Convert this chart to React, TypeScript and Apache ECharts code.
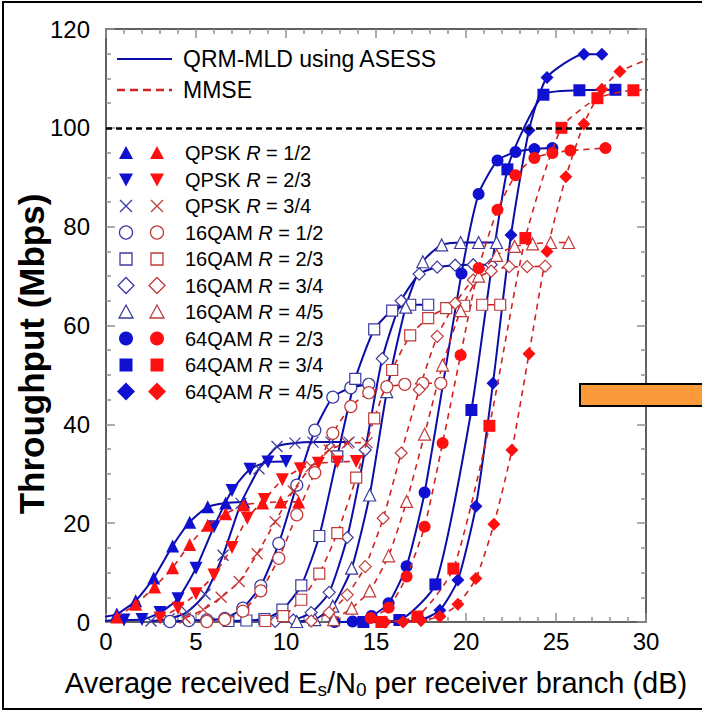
import React, { useEffect, useRef } from 'react';
import * as echarts from 'echarts';

const FONT = 'Liberation Sans, Arial, sans-serif';

// ---- tick labels ----
const xTicks = [0, 5, 10, 15, 20, 25, 30];
const yTicks = [0, 20, 40, 60, 80, 100, 120];
const yTitle = 'Throughput (Mbps)';
const xTitle = 'Average received E{sub|s}/N{sub|0} per receiver branch (dB)';

// ---- legend ----
const legendNames = [
  'QPSK {i|R} = 1/2', 'QPSK {i|R} = 2/3', 'QPSK {i|R} = 3/4',
  '16QAM {i|R} = 1/2', '16QAM {i|R} = 2/3', '16QAM {i|R} = 3/4', '16QAM {i|R} = 4/5',
  '64QAM {i|R} = 2/3', '64QAM {i|R} = 3/4', '64QAM {i|R} = 4/5',
];
const markerKinds = ['triUp', 'triDown', 'cross', 'oCircle', 'oSquare', 'oDiamond', 'oTri', 'fCircle', 'fSquare', 'fDiamond'];
const methodNames = ['QRM-MLD using ASESS', 'MMSE'];
const targetThroughput = 100;

// ---- QRM-MLD using ASESS (blue, solid) ----
const qrmQpsk12 = [[-0.4, 0.9], [0.6, 1.6], [1.65, 4.3], [2.65, 8.9], [3.7, 15.4], [4.65, 20.2], [5.65, 23.3], [6.65, 24.1], [7.65, 24.3]];
const qrmQpsk23 = [[-0.4, 0.2], [1, 0.4], [2, 0.5], [3, 1.9], [4, 4.7], [5, 10.9], [6, 19.3], [7, 26.6], [8, 30.9], [9, 32.4], [10, 32.5]];
const qrmQpsk34 = [[2.5, 0.2], [3.5, 0.6], [4.5, 2], [5.5, 5.6], [6.5, 13.5], [7.5, 24], [8.5, 31], [9.5, 35.5], [10.5, 36.2], [11.5, 36.4], [12.5, 36.4], [13.5, 36.4]];
const qrm16q12 = [[3.55, 0.1], [4.6, 0.3], [5.6, 0.4], [6.6, 0.7], [7.6, 2.8], [8.6, 7.3], [9.6, 15.9], [10.6, 27.7], [11.6, 38.8], [12.6, 45.5], [13.6, 47.4], [14.6, 48.1]];
const qrm16q23 = [[6.8, 0.2], [7.8, 0.3], [8.8, 0.6], [9.8, 2.5], [10.85, 7.4], [11.85, 17.4], [12.85, 33.5], [13.85, 49.2], [14.9, 59.2], [15.9, 63], [16.9, 64.2], [17.9, 64.2]];
const qrm16q34 = [[9.4, 0.1], [10.4, 0.4], [11.4, 1.9], [12.4, 6], [13.4, 17.1], [14.4, 34.8], [15.35, 53.3], [16.4, 65], [17.4, 70.4], [18.4, 71.8], [19.4, 72.2], [20.4, 72.3], [21.4, 72.3]];
const qrm16q45 = [[10.6, 0.1], [11.6, 0.5], [12.6, 3.2], [13.65, 10.9], [14.65, 25.7], [15.6, 46.6], [16.65, 63.7], [17.6, 72.9], [18.65, 76.3], [19.7, 76.8], [20.7, 76.8], [21.7, 76.8]];
const qrm64q23 = [[12.7, 0], [13.7, 0.1], [14.75, 1.2], [15.7, 3.8], [16.7, 11.3], [17.7, 26.2], [19.75, 70.5], [20.7, 86.6], [21.75, 93.4], [22.75, 95.1], [23.8, 95.7], [24.8, 95.9]];
const qrm64q34 = [[14.3, 0], [16.3, 0.4], [18.3, 7.6], [20.3, 42.9], [22.3, 91.6], [24.3, 106.7], [26.3, 107.6], [28.3, 107.7]];
const qrm64q45 = [[15.5, 0], [16.5, 0.1], [17.5, 0.4], [18.55, 2.4], [19.55, 8.5], [20.55, 23.4], [21.5, 48.3], [22.5, 78.3], [23.5, 99.5], [24.5, 110.2], [26.55, 114.9], [27.55, 114.9]];

// ---- MMSE (red, dashed) ----
const mmseQpsk12 = [[0.6, 1.0], [1.65, 3.6], [2.7, 7.1], [3.7, 11], [4.65, 15.7], [5.65, 19.6], [6.65, 21.9], [7.65, 23.7], [8.7, 24.1], [9.7, 24.3], [10.7, 24.3]];
const mmseQpsk23 = [[3, 0.8], [4, 2.8], [5, 5.7], [6, 9.5], [7, 15.1], [7.85, 21], [8.8, 24.8], [9.8, 28.8], [10.8, 31], [11.8, 32.1], [12.85, 32.4], [13.9, 32.5]];
const mmseQpsk34 = [[4.4, 0.8], [5.4, 2.5], [6.4, 5], [7.4, 8.2], [8.4, 13.8], [9.4, 20.3], [10.4, 26.5], [11.4, 31.5], [12.4, 34.8], [13.4, 36.2], [14.5, 36.3]];
const mmse16q12 = [[5.6, 0.1], [6.6, 0.5], [7.6, 2.2], [8.6, 6.3], [9.6, 12.9], [10.6, 21.7], [11.6, 30.2], [12.6, 38.2], [13.6, 43.6], [14.6, 46.4], [15.6, 47.6], [16.6, 48.1], [17.6, 48.3], [18.6, 48.3]];
const mmse16q23 = [[8.85, 0.2], [9.85, 1.2], [10.85, 4.5], [11.85, 9.8], [12.85, 18], [13.9, 29.2], [14.9, 41.2], [15.9, 51], [16.9, 58], [17.9, 61.5], [18.9, 63.5], [19.9, 64], [20.9, 64.2], [21.9, 64.2]];
const mmse16q34 = [[11.4, 0.2], [12.4, 1.9], [13.4, 5.5], [14.4, 11.2], [15.4, 21], [16.4, 34.2], [17.4, 47], [18.4, 57.8], [19.4, 64.5], [20.4, 69.2], [21.4, 71], [22.4, 71.9], [23.4, 71.9], [24.4, 72]];
const mmse16q45 = [[12.65, 0.5], [13.65, 2.8], [14.65, 6.3], [15.7, 13.4], [16.7, 24.4], [17.7, 38], [18.7, 52], [19.7, 63], [20.7, 70], [21.7, 74.2], [22.7, 76], [23.7, 76.5], [24.7, 76.8], [25.7, 76.8]];
const mmse64q23 = [[14.7, 0.8], [15.7, 2.9], [16.7, 9.2], [17.7, 19.3], [18.7, 36.2], [19.7, 54], [20.7, 71.6], [21.75, 83.4], [22.75, 90.4], [23.8, 93.9], [24.8, 94.9], [25.8, 95.4], [27.75, 95.9]];
const mmse64q34 = [[15.3, 0], [17.3, 1.1], [19.3, 10.8], [21.3, 39.7], [23.3, 77.7], [25.3, 100], [27.3, 106], [29.3, 107.6], [31.3, 107.7]];
const mmse64q45 = [[15.5, 0], [16.5, 0], [17.5, 0.3], [18.55, 1.1], [19.55, 3.6], [20.55, 8.8], [21.55, 19.8], [22.55, 34.8], [23.5, 54.3], [24.5, 75], [25.55, 90.1], [26.55, 100.8], [27.55, 107.8], [28.55, 111.4], [30.55, 114.5]];

const qrmSets = [qrmQpsk12, qrmQpsk23, qrmQpsk34, qrm16q12, qrm16q23, qrm16q34, qrm16q45, qrm64q23, qrm64q34, qrm64q45];
const mmseSets = [mmseQpsk12, mmseQpsk23, mmseQpsk34, mmse16q12, mmse16q23, mmse16q34, mmse16q45, mmse64q23, mmse64q34, mmse64q45];

const BLUE_LINE = '#0c0ca8';
const BLUE_FILL = '#1010d0';
const BLUE_OPEN = '#3a3aa0';
const RED_LINE = '#d42020';
const RED_FILL = '#ff1010';
const RED_OPEN = '#c03a3a';

const symbolFor = (k: string) => {
  switch (k) {
    case 'triUp': return { symbol: 'triangle', size: 13 };
    case 'triDown': return { symbol: 'path://M0,0L20,0L10,18Z', size: 13 };
    case 'cross': return { symbol: 'path://M0,0L10,10M10,0L0,10', size: 11 };
    case 'oCircle': return { symbol: 'circle', size: 12 };
    case 'oSquare': return { symbol: 'rect', size: 11 };
    case 'oDiamond': return { symbol: 'diamond', size: 12 };
    case 'oTri': return { symbol: 'triangle', size: 12 };
    case 'fCircle': return { symbol: 'circle', size: 12 };
    case 'fSquare': return { symbol: 'rect', size: 12 };
    default: return { symbol: 'diamond', size: 13 };
  }
};

function makeSeries(data: number[][], kind: string, isQrm: boolean, name: string) {
  const s = symbolFor(kind);
  const filled = kind.startsWith('tri') || kind.startsWith('f');
  const lineColor = isQrm ? BLUE_LINE : RED_LINE;
  let itemStyle: any;
  if (kind === 'cross') {
    itemStyle = { color: 'none', borderColor: isQrm ? BLUE_OPEN : RED_OPEN, borderWidth: 1.3 };
  } else if (filled) {
    itemStyle = { color: isQrm ? BLUE_FILL : RED_FILL, borderWidth: 0 };
  } else {
    itemStyle = { color: '#ffffff', borderColor: isQrm ? BLUE_OPEN : RED_OPEN, borderWidth: 1.2 };
  }
  return {
    type: 'line',
    name,
    data,
    symbol: s.symbol,
    symbolSize: s.size,
    smooth: 0.2,
    clip: true,
    showAllSymbol: true,
    lineStyle: { color: lineColor, width: isQrm ? 2 : 1.6, type: isQrm ? 'solid' : [6, 5] },
    itemStyle,
    z: isQrm ? 3 : 4,
  };
}

function legendIcon(kind: string, cx: number, cy: number, isQrm: boolean): any[] {
  const fill = isQrm ? BLUE_FILL : RED_FILL;
  const open = isQrm ? BLUE_OPEN : RED_OPEN;
  const openStyle = { fill: '#fff', stroke: open, lineWidth: 1.3 };
  switch (kind) {
    case 'triUp': return [{ type: 'polygon', shape: { points: [[cx - 7, cy + 6], [cx + 7, cy + 6], [cx, cy - 7]] }, style: { fill } }];
    case 'triDown': return [{ type: 'polygon', shape: { points: [[cx - 7, cy - 6], [cx + 7, cy - 6], [cx, cy + 7]] }, style: { fill } }];
    case 'cross': return [
      { type: 'line', shape: { x1: cx - 6, y1: cy - 6, x2: cx + 6, y2: cy + 6 }, style: { stroke: open, lineWidth: 1.3 } },
      { type: 'line', shape: { x1: cx + 6, y1: cy - 6, x2: cx - 6, y2: cy + 6 }, style: { stroke: open, lineWidth: 1.3 } },
    ];
    case 'oCircle': return [{ type: 'circle', shape: { cx, cy, r: 6.5 }, style: openStyle }];
    case 'oSquare': return [{ type: 'rect', shape: { x: cx - 6, y: cy - 6, width: 12, height: 12 }, style: openStyle }];
    case 'oDiamond': return [{ type: 'polygon', shape: { points: [[cx, cy - 8], [cx + 8, cy], [cx, cy + 8], [cx - 8, cy]] }, style: openStyle }];
    case 'oTri': return [{ type: 'polygon', shape: { points: [[cx - 7, cy + 6], [cx + 7, cy + 6], [cx, cy - 7]] }, style: openStyle }];
    case 'fCircle': return [{ type: 'circle', shape: { cx, cy, r: 7 }, style: { fill } }];
    case 'fSquare': return [{ type: 'rect', shape: { x: cx - 6.5, y: cy - 6.5, width: 13, height: 13 }, style: { fill } }];
    default: return [{ type: 'polygon', shape: { points: [[cx, cy - 9], [cx + 9, cy], [cx, cy + 9], [cx - 9, cy]] }, style: { fill } }];
  }
}

export default function App() {
  const ref = useRef<HTMLDivElement>(null);
  useEffect(() => {
    if (!ref.current) return;
    const chart = echarts.init(ref.current, null, { renderer: 'svg' });

    const series: any[] = [];
    qrmSets.forEach((d, i) => series.push(makeSeries(d, markerKinds[i], true, methodNames[0] + ' ' + i)));
    mmseSets.forEach((d, i) => series.push(makeSeries(d, markerKinds[i], false, methodNames[1] + ' ' + i)));
    series[0].markLine = {
      silent: true,
      symbol: ['none', 'none'],
      label: { show: false },
      lineStyle: { color: '#000', type: [6, 4], width: 2.5 },
      data: [{ yAxis: targetThroughput }],
    };

    const graphics: any[] = [];
    graphics.push({ type: 'rect', shape: { x: 3, y: 2, width: 720, height: 707 }, style: { fill: 'none', stroke: '#000', lineWidth: 2 }, z: 100 });
    graphics.push({ type: 'rect', shape: { x: 580, y: 384, width: 140, height: 22 }, style: { fill: '#fa9a3a', stroke: '#000', lineWidth: 2 }, z: 100 });
    // y axis title
    graphics.push({
      type: 'text', x: 31, y: 354, rotation: Math.PI / 2, z: 100,
      style: { text: yTitle, font: `bold 35px ${FONT}`, fill: '#000', align: 'center', verticalAlign: 'middle' },
    });
    // method legend
    graphics.push({ type: 'line', shape: { x1: 117, y1: 59, x2: 172, y2: 59 }, style: { stroke: BLUE_LINE, lineWidth: 2 }, z: 100 });
    graphics.push({ type: 'text', x: 183, y: 59, style: { text: methodNames[0], font: `23px ${FONT}`, fill: '#000', verticalAlign: 'middle' }, z: 100 });
    graphics.push({ type: 'line', shape: { x1: 117, y1: 90, x2: 172, y2: 90 }, style: { stroke: RED_LINE, lineWidth: 2.5, lineDash: [8, 5] }, z: 100 });
    graphics.push({ type: 'text', x: 183, y: 90, style: { text: methodNames[1], font: `23px ${FONT}`, fill: '#000', verticalAlign: 'middle' }, z: 100 });
    legendNames.forEach((nm, i) => {
      const cy = 153 + 26.5 * i;
      legendIcon(markerKinds[i], 126, cy, true).forEach((g) => graphics.push({ ...g, z: 100 }));
      legendIcon(markerKinds[i], 157, cy, false).forEach((g) => graphics.push({ ...g, z: 100 }));
      graphics.push({
        type: 'text', x: 185, y: cy, z: 100,
        style: { text: nm, fontSize: 20, fontFamily: FONT, fill: '#000', verticalAlign: 'middle', rich: { i: { fontStyle: 'italic', fontSize: 20, fontFamily: FONT } } },
      });
    });

    const axisLineStyle = { color: '#606060', width: 2 };
    const tickStyle = { color: '#909090', width: 1.5 };
    const baseX = {
      type: 'value', min: xTicks[0], max: xTicks[xTicks.length - 1], interval: 5,
      splitLine: { show: false },
      axisLine: { show: true, onZero: false, lineStyle: axisLineStyle },
      axisTick: { show: true, inside: true, length: 9, lineStyle: tickStyle },
      minorTick: { show: true, splitNumber: 5, length: 5, lineStyle: tickStyle },
    };
    const baseY = {
      type: 'value', min: yTicks[0], max: yTicks[yTicks.length - 1], interval: 20,
      splitLine: { show: false },
      axisLine: { show: true, onZero: false, lineStyle: axisLineStyle },
      axisTick: { show: true, inside: true, length: 9, lineStyle: tickStyle },
      minorTick: { show: true, splitNumber: 4, length: 5, lineStyle: tickStyle },
    };

    chart.setOption({
      animation: false,
      backgroundColor: '#ffffff',
      textStyle: { fontFamily: FONT },
      grid: { left: 106, right: 56, top: 29, bottom: 91, containLabel: false },
      xAxis: [
        {
          ...baseX, position: 'bottom',
          axisLabel: { fontSize: 24, color: '#000', margin: 7, fontFamily: FONT },
          name: xTitle,
          nameLocation: 'middle', nameGap: 45,
          nameTextStyle: {
            fontSize: 29, color: '#000', fontFamily: FONT, lineHeight: 32,
            rich: { sub: { fontSize: 19, lineHeight: 12, verticalAlign: 'bottom', fontFamily: FONT, color: '#000' } },
          },
        },
        { ...baseX, position: 'top', axisLabel: { show: false } },
      ],
      yAxis: [
        {
          ...baseY, position: 'left',
          axisLabel: { fontSize: 24, color: '#000', margin: 16, fontFamily: FONT },
        },
        { ...baseY, position: 'right', axisLabel: { show: false } },
      ],
      series,
      graphic: graphics,
    });
    return () => chart.dispose();
  }, []);
  return <div ref={ref} style={{ position: 'absolute', left: 0, top: 0, width: 702, height: 713, background: '#fff' }} />;
}
